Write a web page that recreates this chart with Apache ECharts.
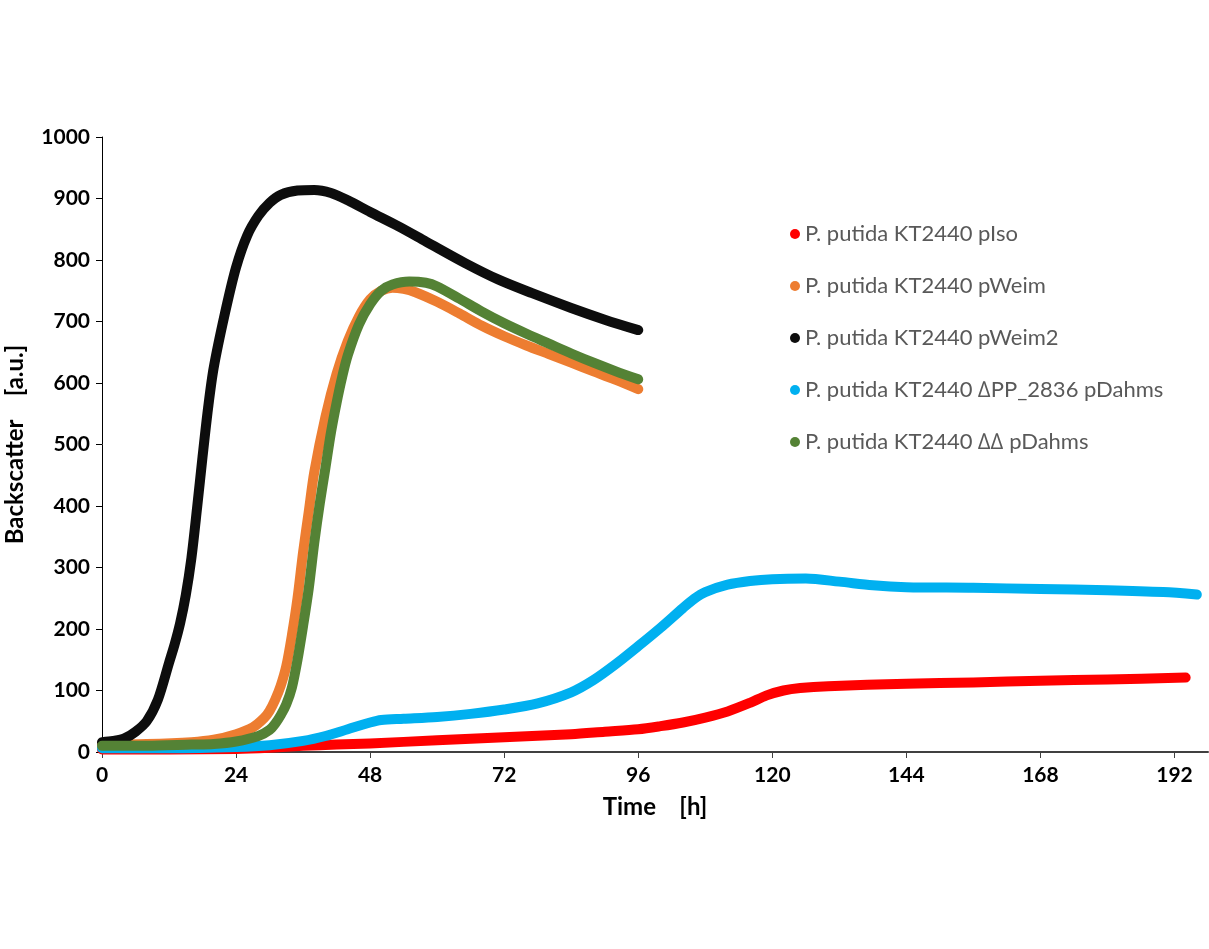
<!DOCTYPE html>
<html>
<head>
<meta charset="utf-8">
<script src="https://cdn.jsdelivr.net/npm/echarts@6/dist/echarts.min.js"></script>
<style>
html,body{margin:0;padding:0;background:#fff;}
#chart{width:1209px;height:949px;}
</style>
</head>
<body>
<div id="chart"></div>
<script>
const seriesNames = [
  'P. putida KT2440 pIso',
  'P. putida KT2440 pWeim',
  'P. putida KT2440 pWeim2',
  'P. putida KT2440 \u2206PP_2836 pDahms',
  'P. putida KT2440 \u2206\u2206 pDahms'
];
const xTickLabels = [0, 24, 48, 72, 96, 120, 144, 168, 192];
const yTickLabels = [0, 100, 200, 300, 400, 500, 600, 700, 800, 900, 1000];

const hoursIso = [0, 12, 24, 30, 36, 42, 48, 60, 72, 84, 90, 96, 100, 104, 108, 112, 116, 119, 122, 125, 130, 144, 156, 168, 180, 194];
const valuesIso = [4, 4, 5, 7, 10, 12, 14, 19, 24, 29, 33, 37, 42, 48, 56, 66, 80, 92, 100, 104, 107, 111, 113, 116, 118, 121];

const hoursWeim = [0, 8, 16, 20, 24, 27, 29, 30, 31, 32, 33, 34, 35, 36, 37, 38, 40, 42, 44, 46, 48, 50, 52, 54, 56, 60, 64, 68, 72, 76, 80, 84, 88, 92, 96];
const valuesWeim = [12, 13, 16, 20, 29, 40, 55, 67, 85, 108, 140, 190, 250, 325, 390, 455, 545, 615, 668, 708, 736, 750, 755, 753, 748, 732, 713, 693, 676, 661, 647, 633, 619, 605, 590];

const hoursWeim2 = [0, 2, 4, 6, 8, 10, 12, 13, 14, 15, 16, 17, 18, 19, 20, 22, 24, 26, 28, 30, 32, 35, 38, 41, 44, 48, 53, 58, 65, 71, 77, 84, 90, 96];
const valuesWeim2 = [16, 18, 22, 33, 50, 85, 145, 175, 210, 255, 315, 395, 480, 560, 625, 713, 788, 840, 872, 893, 906, 913, 914, 909, 897, 878, 855, 830, 795, 768, 746, 722, 703, 686];

const hoursDPP = [0, 12, 24, 30, 36, 40, 44, 48, 50, 54, 60, 66, 72, 78, 84, 88, 92, 96, 100, 104, 106, 108, 112, 116, 120, 126, 132, 138, 144, 156, 168, 180, 190, 196];
const valuesDPP = [6, 6, 8, 11, 18, 26, 37, 48, 52, 54, 57, 62, 69, 79, 97, 117, 143, 172, 202, 234, 249, 260, 272, 278, 281, 282, 277, 271, 268, 267, 265, 263, 260, 256];

const hoursDD = [0, 8, 16, 20, 24, 28, 30, 31, 32, 33, 34, 35, 36, 37, 38, 39, 40, 41, 42, 43, 44, 46, 48, 50, 52, 55, 58, 60, 64, 68, 72, 76, 80, 84, 88, 92, 96];
const valuesDD = [10, 10, 12, 13, 17, 26, 36, 46, 60, 78, 105, 150, 205, 265, 340, 405, 462, 520, 568, 610, 645, 695, 728, 750, 760, 765, 763, 757, 737, 716, 697, 680, 664, 648, 633, 619, 606];

const colors = ['#FF0000', '#ED7D31', '#0D0D0D', '#00B0F0', '#548235'];

function zip(h, v) { return h.map((x, i) => [x, v[i]]); }
const allData = [
  zip(hoursIso, valuesIso),
  zip(hoursWeim, valuesWeim),
  zip(hoursWeim2, valuesWeim2),
  zip(hoursDPP, valuesDPP),
  zip(hoursDD, valuesDD)
];

const chart = echarts.init(document.getElementById('chart'));
const fontFam = 'Lato, "Open Sans", sans-serif';
chart.setOption({
  animation: false,
  backgroundColor: '#ffffff',
  color: colors,
  grid: { left: 102, right: 1, top: 137, bottom: 197, containLabel: false, outerBoundsMode: 'none' },
  legend: {
    orient: 'vertical',
    left: 785,
    top: 218,
    icon: 'circle',
    itemWidth: 10,
    itemHeight: 10,
    itemGap: 30,
    textStyle: { color: '#595959', fontSize: 22, fontFamily: fontFam },
    data: seriesNames
  },
  xAxis: {
    type: 'value',
    min: 0,
    max: 198,
    interval: 24,
    name: 'Time    [h]',
    nameLocation: 'middle',
    nameGap: 43,
    nameTextStyle: { color: '#000', fontSize: 24, fontWeight: 'bold', fontFamily: fontFam },
    axisLine: { show: true, lineStyle: { color: '#404040', width: 2 } },
    axisTick: { show: true, length: 6, lineStyle: { color: '#404040' }, customValues: xTickLabels },
    axisLabel: { color: '#000', fontSize: 21, fontWeight: 'bold', fontFamily: fontFam, margin: 13, customValues: xTickLabels },
    splitLine: { show: false }
  },
  yAxis: {
    type: 'value',
    min: 0,
    max: 1000,
    interval: 100,
    name: 'Backscatter    [a.u.]',
    nameLocation: 'middle',
    nameGap: 75,
    nameTextStyle: { color: '#000', fontSize: 24, fontWeight: 'bold', fontFamily: fontFam },
    axisLine: { show: true, lineStyle: { color: '#000', width: 1 } },
    axisTick: { show: true, length: 6, lineStyle: { color: '#000' }, customValues: yTickLabels },
    axisLabel: { color: '#000', fontSize: 21, fontWeight: 'bold', fontFamily: fontFam, margin: 12, customValues: yTickLabels, formatter: (v) => String(v) },
    splitLine: { show: false }
  },
  series: seriesNames.map((name, i) => ({
    name: name,
    type: 'line',
    data: allData[i],
    smooth: 0.3,
    showSymbol: false,
    symbol: 'circle',
    symbolSize: 10,
    lineStyle: { width: 10, color: colors[i], cap: 'round', join: 'round' },
    itemStyle: { color: colors[i] },
    z: 2 + i
  }))
});
</script>
</body>
</html>
